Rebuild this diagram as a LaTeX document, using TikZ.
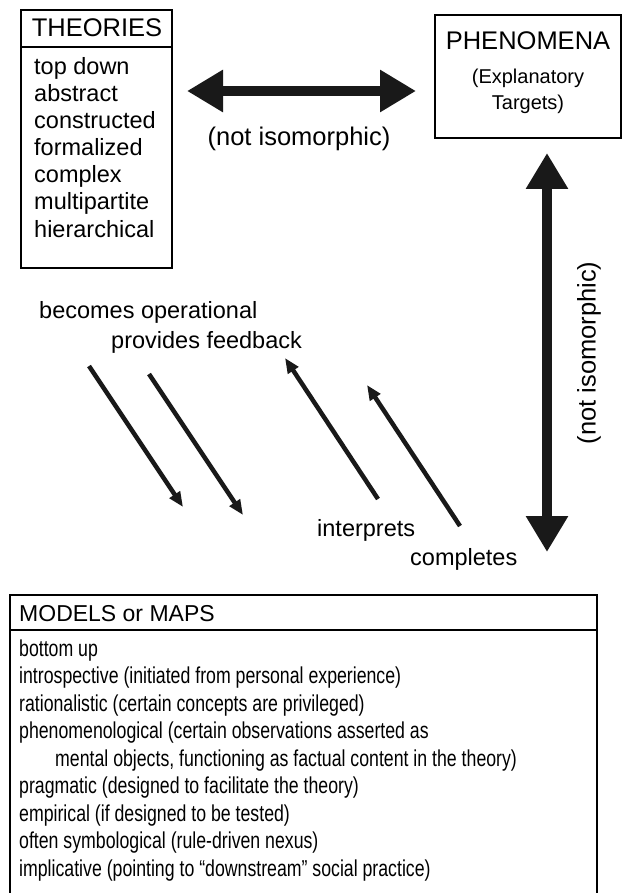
\documentclass[tikz,border=0pt]{standalone}
\usepackage{fontspec}
\setmainfont{Liberation Sans}
\newfontfamily\condfont[FakeStretch=0.77]{Liberation Sans}
\usetikzlibrary{arrows.meta}
\begin{document}
\begin{tikzpicture}[x=1pt,y=-1pt,
  frame/.style={draw=black, line width=2pt, inner sep=0pt},
  title/.style={inner sep=0pt, anchor=base, font=\fontsize{25.5}{30}\selectfont},
  item/.style={inner sep=0pt, anchor=base west, font=\fontsize{23.5}{28}\selectfont},
  sub/.style={inner sep=0pt, anchor=base, font=\fontsize{20}{24}\selectfont},
  mitem/.style={inner sep=0pt, anchor=base west, font=\condfont\fontsize{23}{27}\selectfont},
  bigarrow/.style={line width=9.5pt, draw=black!90, {Triangle[length=36pt,width=40pt]}-{Triangle[length=36pt,width=40pt]}},
  thinarrow/.style={line width=4.5pt, draw=black!90, -{Triangle[length=15pt,width=12pt]}}
]
\useasboundingbox (0,0) rectangle (623,893);
% THEORIES box
\node[frame, minimum width=151pt, minimum height=258pt] (theo) at (96.5,139) {};
\draw[line width=2pt] (21,47) -- (172,47);
\node[title] (theot) at (97,37) {THEORIES};
\node[item] (t1) at (34,75) {top down};
\node[item] (t2) at (34,102) {abstract};
\node[item] (t3) at (34,129) {constructed};
\node[item] (t4) at (34,156) {formalized};
\node[item] (t5) at (34,183) {complex};
\node[item] (t6) at (34,210) {multipartite};
\node[item] (t7) at (34,237) {hierarchical};
% PHENOMENA box
\node[frame, minimum width=186pt, minimum height=123pt] (phen) at (528,76.5) {};
\node[title] (phent) at (528,50) {PHENOMENA};
\node[sub] (ph1) at (528,84) {(Explanatory};
\node[sub] (ph2) at (528,109.5) {Targets)};
% horizontal arrow
\coordinate (hL) at (187,91);
\coordinate (hR) at (416,91);
\draw[bigarrow] (hL) -- (hR);
\node[title] (niso1) at (299,146) {(not isomorphic)};
% vertical arrow
\coordinate (vT) at (547,153);
\coordinate (vB) at (547,552);
\draw[bigarrow] (vT) -- (vB);
\node[title, anchor=center, rotate=90] (niso2) at (589,353) {(not isomorphic)};
% labels
\node[item] (becomes) at (39,318) {becomes operational};
\node[item] (provides) at (111,348) {provides feedback};
\node[item] (interp) at (317,536) {interprets};
\node[item] (compl) at (410,565) {completes};
% diagonal arrows
\coordinate (a1s) at (89,366); \coordinate (a1e) at (183,507);
\coordinate (a2s) at (149,374); \coordinate (a2e) at (243,515);
\coordinate (a3s) at (378,499); \coordinate (a3e) at (285,358);
\coordinate (a4s) at (460,526); \coordinate (a4e) at (367,385);
\draw[thinarrow] (a1s) -- (a1e);
\draw[thinarrow] (a2s) -- (a2e);
\draw[thinarrow] (a3s) -- (a3e);
\draw[thinarrow] (a4s) -- (a4e);
% MODELS box
\coordinate (mBL) at (10,900); \coordinate (mTL) at (10,595);
\coordinate (mTR) at (597,595); \coordinate (mBR) at (597,900);
\draw[line width=2pt] (mBL) -- (mTL) -- (mTR) -- (mBR);
\draw[line width=2pt] (10,630) -- (597,630);
\node[item, font=\fontsize{23}{28}\selectfont] (mt) at (19,621) {MODELS or MAPS};
\node[mitem] (m1) at (19,656) {bottom up};
\node[mitem] (m2) at (19,683.5) {introspective (initiated from personal experience)};
\node[mitem] (m3) at (19,711) {rationalistic (certain concepts are privileged)};
\node[mitem] (m4) at (19,738.5) {phenomenological (certain observations asserted as};
\node[mitem] (m5) at (55,766) {mental objects, functioning as factual content in the theory)};
\node[mitem] (m6) at (19,793.5) {pragmatic (designed to facilitate the theory)};
\node[mitem] (m7) at (19,821) {empirical (if designed to be tested)};
\node[mitem] (m8) at (19,848.5) {often symbological (rule-driven nexus)};
\node[mitem] (m9) at (19,876) {implicative (pointing to “downstream” social practice)};
\end{tikzpicture}
\end{document}
